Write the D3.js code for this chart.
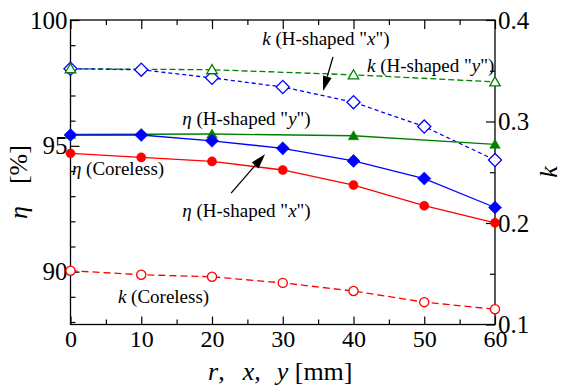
<!DOCTYPE html>
<html>
<head>
<meta charset="utf-8">
<script src="https://cdn.jsdelivr.net/npm/d3@7"></script>
</head>
<body style="margin:0">
<script>
// distance r, x, y in mm
const positions = [0, 10, 20, 30, 40, 50, 60];
const positionsY = [0, 20, 40, 60];

// efficiency eta [%] (left axis)
const etaCoreless = [94.70, 94.54, 94.38, 94.04, 93.44, 92.62, 91.94];
const etaHx = [95.43, 95.43, 95.20, 94.90, 94.40, 93.70, 92.55];
const etaHy = [95.45, 95.47, 95.40, 95.06];

// coupling coefficient k (right axis)
const kCoreless = [0.153, 0.149, 0.147, 0.141, 0.133, 0.122, 0.115];
const kHx = [0.352, 0.351, 0.343, 0.334, 0.319, 0.295, 0.262];
const kHy = [0.352, 0.351, 0.346, 0.339];

const xTicks = [0, 10, 20, 30, 40, 50, 60];
const etaTicks = [90, 95, 100];
const kTicks = [0.1, 0.2, 0.3, 0.4];

const FONT = 'Liberation Serif';

const width = 563, height = 390;
const margin = { top: 20, right: 68, bottom: 65.5, left: 70.5 };
const innerW = width - margin.left - margin.right;
const innerH = height - margin.top - margin.bottom;

const svg = d3.select('body').append('svg')
  .attr('width', width)
  .attr('height', height)
  .attr('font-family', FONT);

const g = svg.append('g')
  .attr('transform', `translate(${margin.left},${margin.top})`);

const x = d3.scaleLinear().domain([0, 60]).range([0, innerW]);
const yEta = d3.scaleLinear().domain([87.9, 100]).range([innerH, 0]);
const yK = d3.scaleLinear().domain([0.1, 0.4]).range([innerH, 0]);

// frame
g.append('rect')
  .attr('width', innerW).attr('height', innerH)
  .attr('fill', 'none').attr('stroke', '#000').attr('stroke-width', 1.3);

function styleAxis(sel, fs) {
  sel.attr('font-family', FONT).attr('font-size', fs);
  sel.select('.domain').remove();
  sel.selectAll('line').attr('stroke', '#000').attr('stroke-width', 1.2);
  sel.selectAll('text').attr('fill', '#000').attr('font-family', FONT).attr('font-size', fs);
}

// bottom axis
g.append('g').attr('transform', `translate(0,${innerH})`)
  .call(d3.axisBottom(x).tickValues(xTicks).tickSizeInner(-8).tickSizeOuter(0).tickPadding(5))
  .call(s => styleAxis(s, 24));
g.append('g').attr('transform', `translate(0,${innerH})`)
  .call(d3.axisBottom(x).tickValues(d3.range(5, 60, 10)).tickSizeInner(-5).tickSizeOuter(0).tickFormat(''))
  .call(s => styleAxis(s, 24));
// top axis (mirror)
g.append('g')
  .call(d3.axisTop(x).tickValues(xTicks).tickSizeInner(-9).tickSizeOuter(0).tickFormat(''))
  .call(s => styleAxis(s, 24));
g.append('g')
  .call(d3.axisTop(x).tickValues(d3.range(5, 60, 10)).tickSizeInner(-5).tickSizeOuter(0).tickFormat(''))
  .call(s => styleAxis(s, 24));

// left axis (eta)
g.append('g')
  .call(d3.axisLeft(yEta).tickValues(etaTicks).tickSizeInner(-9).tickSizeOuter(0).tickPadding(3))
  .call(s => styleAxis(s, 25));
g.append('g')
  .call(d3.axisLeft(yEta).tickValues([88, 89, 91, 92, 93, 94, 96, 97, 98, 99]).tickSizeInner(-5).tickSizeOuter(0).tickFormat(''))
  .call(s => styleAxis(s, 24));

// right axis (k)
g.append('g').attr('transform', `translate(${innerW},0)`)
  .call(d3.axisRight(yK).tickValues(kTicks).tickFormat(d3.format('.1f')).tickSizeInner(-9).tickSizeOuter(0).tickPadding(3))
  .call(s => styleAxis(s, 25));
g.append('g').attr('transform', `translate(${innerW},0)`)
  .call(d3.axisRight(yK).tickValues([0.15, 0.25, 0.35]).tickSizeInner(-5).tickSizeOuter(0).tickFormat(''))
  .call(s => styleAxis(s, 24));

// series
const series = [
  { xs: positions, ys: kCoreless, scale: yK, color: '#ff0000', dash: '7,4', shape: 'circle', filled: false },
  { xs: positionsY, ys: kHy, scale: yK, color: '#008000', dash: '6,3', shape: 'triangle', filled: false },
  { xs: positions, ys: kHx, scale: yK, color: '#0000ff', dash: '4,3', shape: 'diamond', filled: false },
  { xs: positions, ys: etaCoreless, scale: yEta, color: '#ff0000', dash: null, shape: 'circle', filled: true },
  { xs: positionsY, ys: etaHy, scale: yEta, color: '#008000', dash: null, shape: 'triangle', filled: true },
  { xs: positions, ys: etaHx, scale: yEta, color: '#0000ff', dash: null, shape: 'diamond', filled: true }
];

series.forEach(s => {
  const pts = s.xs.map((v, i) => [v, s.ys[i]]);
  g.append('path')
    .datum(pts)
    .attr('fill', 'none')
    .attr('stroke', s.color)
    .attr('stroke-width', 1.3)
    .attr('stroke-dasharray', s.dash)
    .attr('d', d3.line().x(d => x(d[0])).y(d => s.scale(d[1])));
});

const symbolFor = {
  circle: d3.symbol().type(d3.symbolCircle).size(66),
  triangle: d3.symbol().type(d3.symbolTriangle).size(48),
  diamond: d3.symbol().type(d3.symbolSquare).size(86)
};

// open markers: blue before green; filled: green before blue
const markerOrder = [0, 2, 1, 3, 4, 5];
markerOrder.forEach(idx => {
  const s = series[idx];
  const pts = s.xs.map((v, i) => [v, s.ys[i]]);
  g.append('g').selectAll('path')
    .data(pts)
    .join('path')
    .attr('d', symbolFor[s.shape])
    .attr('transform', d => `translate(${x(d[0])},${s.scale(d[1])})` + (s.shape === 'diamond' ? ' rotate(45)' : '') + (s.shape === 'triangle' ? ' translate(0,1)' : ''))
    .attr('fill', s.filled ? s.color : '#fff')
    .attr('stroke', s.color)
    .attr('stroke-width', s.filled ? 0.5 : 1.3);
});

// annotations (positions in data units)
const labels = [
  { sym: 'k', rest: ' (H-shaped "', it: 'x', end: '")', at: [27.1, 0.3754], scale: yK },
  { sym: 'k', rest: ' (H-shaped "', it: 'y', end: '")', at: [41.9, 0.3488], scale: yK },
  { sym: 'η', rest: ' (H-shaped "', it: 'y', end: '")', at: [15.8, 95.83], scale: yEta },
  { sym: 'η', rest: ' (Coreless)', it: '', end: '', at: [0.2, 93.84], scale: yEta },
  { sym: 'η', rest: ' (H-shaped "', it: 'x', end: '")', at: [15.8, 92.17], scale: yEta },
  { sym: 'k', rest: ' (Coreless)', it: '', end: '', at: [6.7, 0.1212], scale: yK }
];

labels.forEach(l => {
  const t = g.append('text')
    .attr('x', x(l.at[0]))
    .attr('y', l.scale(l.at[1]))
    .attr('font-family', FONT)
    .attr('font-size', 19);
  t.append('tspan').attr('font-style', 'italic').text(l.sym);
  t.append('tspan').text(l.rest);
  if (l.it) t.append('tspan').attr('font-style', 'italic').text(l.it);
  if (l.end) t.append('tspan').text(l.end);
});

const arrows = [
  { from: [37.1, 0.3635], to: [35.7, 0.330], scale: yK },
  { from: [22.7, 93.12], to: [27.5, 94.67], scale: yEta }
];

arrows.forEach(a => {
  const x1 = x(a.from[0]), y1 = a.scale(a.from[1]);
  const x2 = x(a.to[0]), y2 = a.scale(a.to[1]);
  const ang = Math.atan2(y2 - y1, x2 - x1);
  const len = 15, hw = 4.5;
  const bx = x2 - len * Math.cos(ang), by = y2 - len * Math.sin(ang);
  g.append('line')
    .attr('x1', x1).attr('y1', y1).attr('x2', bx).attr('y2', by)
    .attr('stroke', '#000').attr('stroke-width', 1.3);
  g.append('path')
    .attr('d', d3.line()([
      [x2, y2],
      [bx + hw * Math.sin(ang), by - hw * Math.cos(ang)],
      [bx - hw * Math.sin(ang), by + hw * Math.cos(ang)]
    ]) + 'Z')
    .attr('fill', '#000');
});

// axis titles
const xt = svg.append('text')
  .attr('x', 208).attr('y', 380)
  .attr('font-family', FONT)
  .attr('font-size', 26);
xt.append('tspan').attr('font-style', 'italic').text('r');
xt.append('tspan').text(',');
xt.append('tspan').attr('dx', 18).attr('font-style', 'italic').text('x');
xt.append('tspan').text(',');
xt.append('tspan').attr('dx', 16).attr('font-style', 'italic').text('y');
xt.append('tspan').text(' [mm]');

const lt = svg.append('text')
  .attr('transform', 'translate(27,219) rotate(-90)')
  .attr('font-family', FONT)
  .attr('font-size', 26);
lt.append('tspan').attr('font-style', 'italic').text('η');
lt.append('tspan').attr('dx', 22).text('[%]');

svg.append('text')
  .attr('transform', 'translate(557,172) rotate(-90)')
  .attr('text-anchor', 'middle')
  .attr('font-family', FONT)
  .attr('font-size', 26)
  .attr('font-style', 'italic')
  .text('k');
</script>
</body>
</html>
